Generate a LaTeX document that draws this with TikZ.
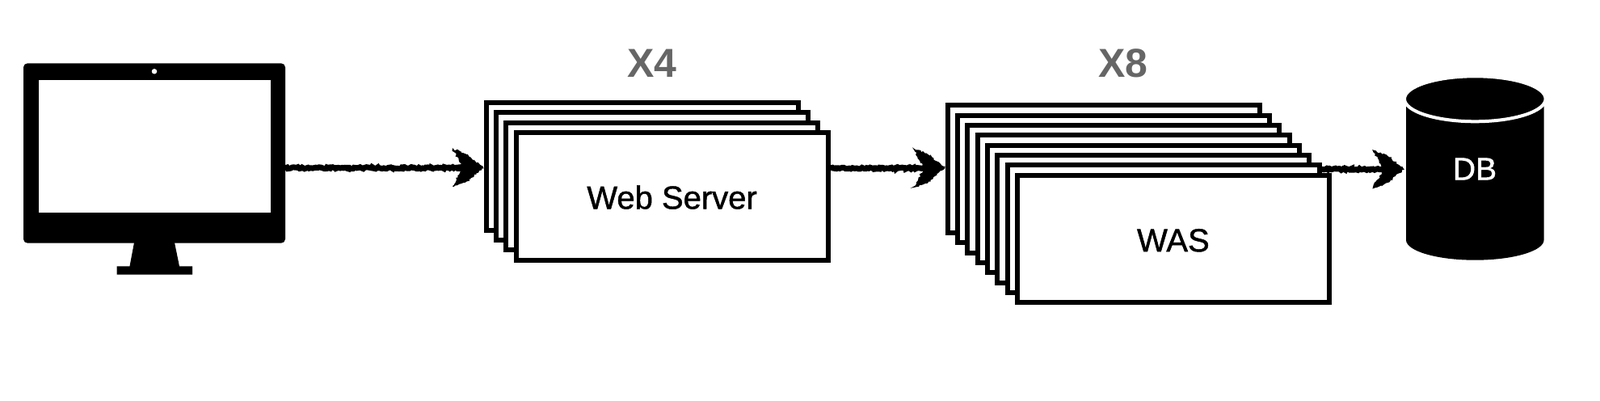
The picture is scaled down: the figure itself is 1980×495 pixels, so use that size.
\documentclass[tikz,border=0pt]{standalone}
\usepackage{fontspec}
\setmainfont{Liberation Sans}
\newfontfamily\inkfont[FakeBold=1.2]{Liberation Sans}
\usetikzlibrary{calc,decorations.pathmorphing}
\definecolor{countgray}{HTML}{666666}
\tikzset{
  x=1pt,y=-1pt,
  stackbox/.style={draw=black,fill=white,line width=6pt,minimum width=386pt,minimum height=157.5pt,inner sep=0pt,anchor=north west,text height=31.5pt,font=\inkfont\fontsize{40}{46}\selectfont},
  countlabel/.style={text=countgray,inner sep=0pt,font=\bfseries\fontsize{50}{56}\selectfont},
  roughline/.style={draw=black,line width=7pt,decorate,decoration={random steps,segment length=2pt,amplitude=1.1pt}},
  roughhead/.style={fill=black,draw=black,line width=1.5pt,decorate,decoration={random steps,segment length=2pt,amplitude=1.4pt}},
}
\newcommand{\inkarrow}[2]{%
  \draw[roughline] (#1) -- ($(#2)+(-12,0)$);
  \path[roughhead] ($(#2)+(-38,-23)$) -- ($(#2)+(-21,-16)$) -- ($(#2)+(-1,0)$) -- ($(#2)+(-21,16)$) -- ($(#2)+(-38,23)$) -- ($(#2)+(-27,4)$) -- ($(#2)+(-27,-4)$) -- cycle;
}
\begin{document}
\begin{tikzpicture}
\useasboundingbox (0,0) rectangle (1980,495);
% monitor
\node[fill=black,rounded corners=5pt,minimum width=324pt,minimum height=222.4pt,inner sep=0pt,outer sep=0pt,anchor=north west] (mon) at (29,78.3) {};
\node[fill=white,minimum width=286.5pt,minimum height=163.4pt,inner sep=0pt,outer sep=0pt,anchor=north west] (screen) at (48,99.3) {};
\node[circle,fill=white,minimum size=6.5pt,inner sep=0pt] (cam) at (191,88.3) {};
\fill[black] (166,300) -- (216,300) -- (222,329.3) -- (238,329.3) -- (238,339.7) -- (144.7,339.7) -- (144.7,329.3) -- (160.5,329.3) -- cycle;
% web server stack
\node[stackbox] (ws1) at (598.5,124) {};
\node[stackbox] (ws2) at (611,136.3) {};
\node[stackbox] (ws3) at (623.3,148.6) {};
\node[stackbox] (ws4) at (635.6,161) {Web Server};
\node[countlabel] (x4) at (807,78) {X4};
% WAS stack
\node[stackbox] (was1) at (1169.6,127.3) {};
\node[stackbox] (was2) at (1181.9,139.6) {};
\node[stackbox] (was3) at (1194.3,152) {};
\node[stackbox] (was4) at (1206.6,164.3) {};
\node[stackbox] (was5) at (1218.9,176.7) {};
\node[stackbox] (was6) at (1231.3,189) {};
\node[stackbox] (was7) at (1243.6,201.3) {};
\node[stackbox] (was8) at (1255.9,213.8) {WAS};
\node[countlabel] (x8) at (1390,78) {X8};
% database
\fill[black] (1740,122) -- (1740,296.7) arc[start angle=180,end angle=0,x radius=85.3,y radius=25] -- (1910.6,122) -- cycle;
\draw[white,line width=4pt,fill=black] (1825.3,122.3) ellipse[x radius=87.3,y radius=28];
\node[text=white,inner sep=0pt,font=\inkfont\fontsize{39}{44}\selectfont] (db) at (1825,209) {DB};
\coordinate (dbin) at (1737.5,209.3);
% connectors
\coordinate (a1s) at (mon.east |- 0,207.7);
\coordinate (a1e) at (ws1.west |- 0,207.7);
\coordinate (a2s) at (ws4.east |- 0,208);
\coordinate (a2e) at (was1.west |- 0,208);
\coordinate (a3s) at (was7.east |- 0,209.3);
\inkarrow{a1s}{a1e}
\inkarrow{a2s}{a2e}
\inkarrow{a3s}{dbin}
\end{tikzpicture}
\end{document}
